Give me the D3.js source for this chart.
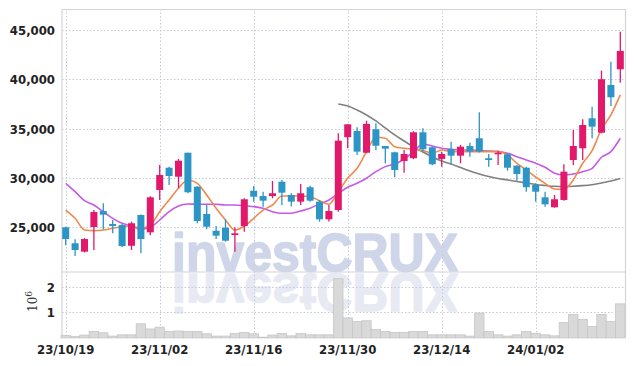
<!DOCTYPE html>
<html>
<head>
<meta charset="utf-8">
<script src="https://cdn.jsdelivr.net/npm/d3@7"></script>
<style>
  html, body { margin: 0; padding: 0; background: #fff; }
  svg { display: block; }
</style>
</head>
<body>
<svg id="chart" width="634" height="366"></svg>
<script>
// ---------------- DATA ----------------
const dates = [
  "2023-10-19","2023-10-20","2023-10-23","2023-10-24","2023-10-25","2023-10-26","2023-10-27","2023-10-30","2023-10-31","2023-11-01",
  "2023-11-02","2023-11-03","2023-11-06","2023-11-07","2023-11-08","2023-11-09","2023-11-10","2023-11-13","2023-11-14","2023-11-15",
  "2023-11-16","2023-11-17","2023-11-20","2023-11-21","2023-11-22","2023-11-23","2023-11-24","2023-11-27","2023-11-28","2023-11-29",
  "2023-11-30","2023-12-01","2023-12-04","2023-12-05","2023-12-06","2023-12-07","2023-12-08","2023-12-11","2023-12-12","2023-12-13",
  "2023-12-14","2023-12-15","2023-12-18","2023-12-19","2023-12-20","2023-12-21","2023-12-22","2023-12-26","2023-12-27","2023-12-28",
  "2024-01-02","2024-01-03","2024-01-04","2024-01-05","2024-01-08","2024-01-09","2024-01-10","2024-01-11","2024-01-12","2024-01-15"
];
const open  = [25000,23380,22530,25030,26650,25340,25230,23130,26250,24490,
               28780,31040,30130,32560,29120,26350,24650,24960,24220,25130,
               28710,28170,28170,29620,28270,27600,29060,27600,25810,26750,
               34130,34770,32560,34940,33240,32600,31720,32000,34630,33110,
               31930,32940,32260,33240,34030,32000,32400,32400,31250,31040,
               29290,28040,27030,27770,31820,33010,36050,34590,39430,41020];
const high  = [25050,23780,23900,26750,27430,25740,25350,25570,26300,28150,
               31320,31150,31930,32560,29150,27260,25130,25800,25000,27950,
               29190,28610,29700,29800,28450,29390,29200,27770,27260,34530,
               35440,35140,35810,35550,33240,32670,32840,34740,35040,33200,
               32670,33680,33350,33580,36660,32430,32770,32500,31300,31150,
               29460,28610,28280,31390,34870,35950,37230,40880,41790,44830];
const low   = [23180,22090,22450,22700,24800,24390,23000,22700,22360,24200,
               27770,29290,28960,28450,25400,24800,23810,23550,22530,24550,
               27600,27090,27940,27260,27100,27260,27600,25570,25600,26580,
               33010,32330,32500,32840,31490,30070,30540,31900,32670,31300,
               31150,31420,31490,32160,32570,31150,31320,30740,29730,28610,
               27600,27090,26990,27700,31320,31820,34030,34530,37300,39660];
const close = [23810,22700,23810,26550,26280,25130,23100,25410,23810,28040,
               30300,30200,31750,28550,25640,25060,24150,23640,24390,27840,
               28100,27700,28450,28510,27600,28450,27700,25810,26650,33780,
               35440,32670,35480,33270,32970,30810,32430,34630,32910,31390,
               32430,32260,33170,32670,32670,31820,32560,31040,30400,29060,
               28610,27330,27840,30640,33240,35370,35200,40010,38180,42880];
const volumeM = [0.10,0.06,0.11,0.25,0.20,0.07,0.12,0.12,0.55,0.35,
                 0.42,0.25,0.27,0.25,0.25,0.16,0.07,0.07,0.17,0.21,
                 0.16,0.03,0.11,0.17,0.08,0.17,0.12,0.12,0.12,2.31,
                 0.78,0.64,0.67,0.33,0.25,0.21,0.21,0.25,0.25,0.12,
                 0.12,0.12,0.12,0.07,0.97,0.25,0.12,0.07,0.12,0.25,
                 0.18,0.12,0.08,0.60,0.91,0.72,0.44,0.91,0.64,1.33];
const ma5  = [26750,25910,24730,24660,24730,24900,25060,25130,24900,25230,
              26580,27770,28960,29800,29460,28280,26930,25740,24730,25130,
              25910,26750,27260,28170,28170,28170,28100,27700,27330,28610,
              29970,30980,32670,34130,34030,33170,33010,32910,32770,32500,
              32840,32670,32670,32670,32670,32670,32670,32330,31490,30810,
              30100,29460,28880,28850,29800,31490,32770,34940,36390,38420];
const ma20 = [29460,28610,27700,27260,26580,25910,25410,25130,24800,25000,
              25740,26580,27160,27360,27330,27330,27330,27260,27260,27190,
              27090,26930,26580,26420,26420,26650,26930,27360,27770,28450,
              29060,29460,29970,30640,31150,31420,31900,32670,33450,33240,
              33010,32910,32840,32840,32770,32740,32670,32500,32160,31820,
              31500,31080,30480,30300,30400,30640,30980,32100,32670,34030];
const ma60 = [null,null,null,null,null,null,null,null,null,null,
              null,null,null,null,null,null,null,null,null,null,
              null,null,null,null,null,null,null,null,null,37500,
              37300,36890,36390,35780,35070,34360,33750,33140,32640,32130,
              31720,31420,31060,30710,30410,30150,29950,29800,29640,29490,
              29340,29240,29160,29140,29160,29220,29320,29490,29700,29950];
const priceTicks = [25000, 30000, 35000, 40000, 45000];
const volumeTicks = [1, 2];
const dateTickIdx = [0, 10, 20, 30, 40, 50];

// ---------------- LAYOUT ----------------
const svg = d3.select("#chart");
const pLeft = 62, pRight = 625.5, pTop = 9, priceBottom = 272, volBottom = 338;
const parse = d3.timeParse("%Y-%m-%d");
const fmtDate = d3.timeFormat("%y/%m/%d");

const x = d3.scaleLinear().domain([-0.5, dates.length - 0.5]).range([61, 625]);
const y = d3.scaleLinear().domain([25000, 45000]).range([227.3, 30]);
const yv = d3.scaleLinear().domain([0, 2]).range([337.9, 286.7]);
const step = x(1) - x(0);

const UP = "#e2186b", DOWN = "#2c95c6";
const gridColor = "#c5c9da";

// ---------- watermark ----------
const wm = svg.append("g");
const wmX = 315, wmBase = 271;
const addWm = (g, extra) => g.append("text")
  .attr("x", wmX).attr("y", wmBase)
  .attr("text-anchor", "middle")
  .attr("font-family", "Liberation Sans, Arial, sans-serif")
  .attr("font-weight", "bold")
  .attr("font-size", 53)
  .attr("textLength", 286)
  .attr("lengthAdjust", "spacingAndGlyphs")
  .attr("fill", "#d0d6e9")
  .attr("stroke", "#d0d6e9")
  .attr("stroke-width", 1.6)
  .attr("stroke-linejoin", "round")
  .text("investCRUX");
addWm(wm);
addWm(wm)
  .attr("transform", `translate(0,${2 * wmBase + 3}) scale(1,-1)`)
  .attr("opacity", 0.5);

// ---------- grid ----------
const grid = svg.append("g").attr("stroke", gridColor).attr("stroke-dasharray", "1.5,2").attr("stroke-width", 1);
grid.selectAll("line.hp").data(priceTicks).join("line")
  .attr("x1", pLeft).attr("x2", pRight)
  .attr("y1", d => Math.round(y(d)) + 0.5).attr("y2", d => Math.round(y(d)) + 0.5);
grid.selectAll("line.hv").data(volumeTicks).join("line")
  .attr("x1", pLeft).attr("x2", pRight)
  .attr("y1", d => Math.round(yv(d)) + 0.5).attr("y2", d => Math.round(yv(d)) + 0.5);
grid.selectAll("line.v").data(dateTickIdx).join("line")
  .attr("x1", i => Math.round(x(i)) + 0.5).attr("x2", i => Math.round(x(i)) + 0.5)
  .attr("y1", pTop).attr("y2", volBottom);

// ---------- borders ----------
const border = svg.append("g").attr("stroke", "#d4d4d8").attr("stroke-width", 1.2).attr("fill", "none");
border.append("path").attr("d", `M${pLeft},${volBottom}V${pTop + 0.5}H${pRight}V${volBottom}`);
border.append("line").attr("x1", pLeft).attr("x2", pRight).attr("y1", priceBottom).attr("y2", priceBottom);

// ---------- volume ----------
svg.append("g").selectAll("rect").data(volumeM).join("rect")
  .attr("x", (d, i) => x(i) - step / 2)
  .attr("width", step)
  .attr("y", d => yv(d))
  .attr("height", d => yv(0) - yv(d))
  .attr("fill", "#d9d9d9")
  .attr("stroke", "#c6c6c6")
  .attr("stroke-width", 0.8);

// ---------- moving averages ----------
const line = d3.line().defined(d => d[1] != null).x(d => x(d[0])).y(d => y(d[1])).curve(d3.curveMonotoneX);
const addLine = (arr, color, w) => svg.append("path")
  .attr("d", line(arr.map((v, i) => [i, v])))
  .attr("fill", "none").attr("stroke", color).attr("stroke-width", w)
  .attr("stroke-linejoin", "round");
addLine(ma60, "#808080", 1.6);
addLine(ma20, "#c65ae8", 1.6);
addLine(ma5, "#ef8a4e", 1.6);

// ---------- candles ----------
const idx = d3.range(dates.length);
const cw = 7;
const cg = svg.append("g");
cg.selectAll("line").data(idx).join("line")
  .attr("x1", i => x(i)).attr("x2", i => x(i))
  .attr("y1", i => y(high[i])).attr("y2", i => y(low[i]))
  .attr("stroke", i => close[i] >= open[i] ? UP : DOWN)
  .attr("stroke-width", 1.3);
cg.selectAll("rect").data(idx).join("rect")
  .attr("x", i => x(i) - cw / 2)
  .attr("width", cw)
  .attr("y", i => y(Math.max(open[i], close[i])))
  .attr("height", i => Math.max(1.5, Math.abs(y(open[i]) - y(close[i]))))
  .attr("fill", i => close[i] >= open[i] ? UP : DOWN);

// ---------- axes labels ----------
const labelFont = "'DejaVu Sans Condensed', 'Liberation Sans Narrow', 'Roboto', sans-serif";
svg.append("g").selectAll("text").data(priceTicks).join("text")
  .attr("x", 55).attr("y", d => y(d) + 5)
  .attr("text-anchor", "end")
  .attr("font-family", labelFont).attr("font-weight", "bold").attr("font-size", 13)
  .attr("fill", "#222")
  .text(d => d3.format(",")(d));
svg.append("g").selectAll("text").data(volumeTicks).join("text")
  .attr("x", 55).attr("y", d => yv(d) + 5)
  .attr("text-anchor", "end")
  .attr("font-family", labelFont).attr("font-weight", "bold").attr("font-size", 13)
  .attr("fill", "#222")
  .text(d => d);
const vl = svg.append("text")
  .attr("transform", "translate(37,312) rotate(-90)")
  .attr("font-family", "'DejaVu Serif', 'Liberation Serif', serif")
  .attr("font-size", 12)
  .attr("fill", "#333");
vl.append("tspan").text("10");
vl.append("tspan").attr("dy", -5).attr("font-size", 9).text("6");

svg.append("g").selectAll("text").data(dateTickIdx).join("text")
  .attr("x", i => x(i)).attr("y", 354)
  .attr("text-anchor", "middle")
  .attr("font-family", labelFont).attr("font-weight", "bold").attr("font-size", 13)
  .attr("fill", "#222")
  .text(i => fmtDate(parse(dates[i])));
</script>
</body>
</html>
